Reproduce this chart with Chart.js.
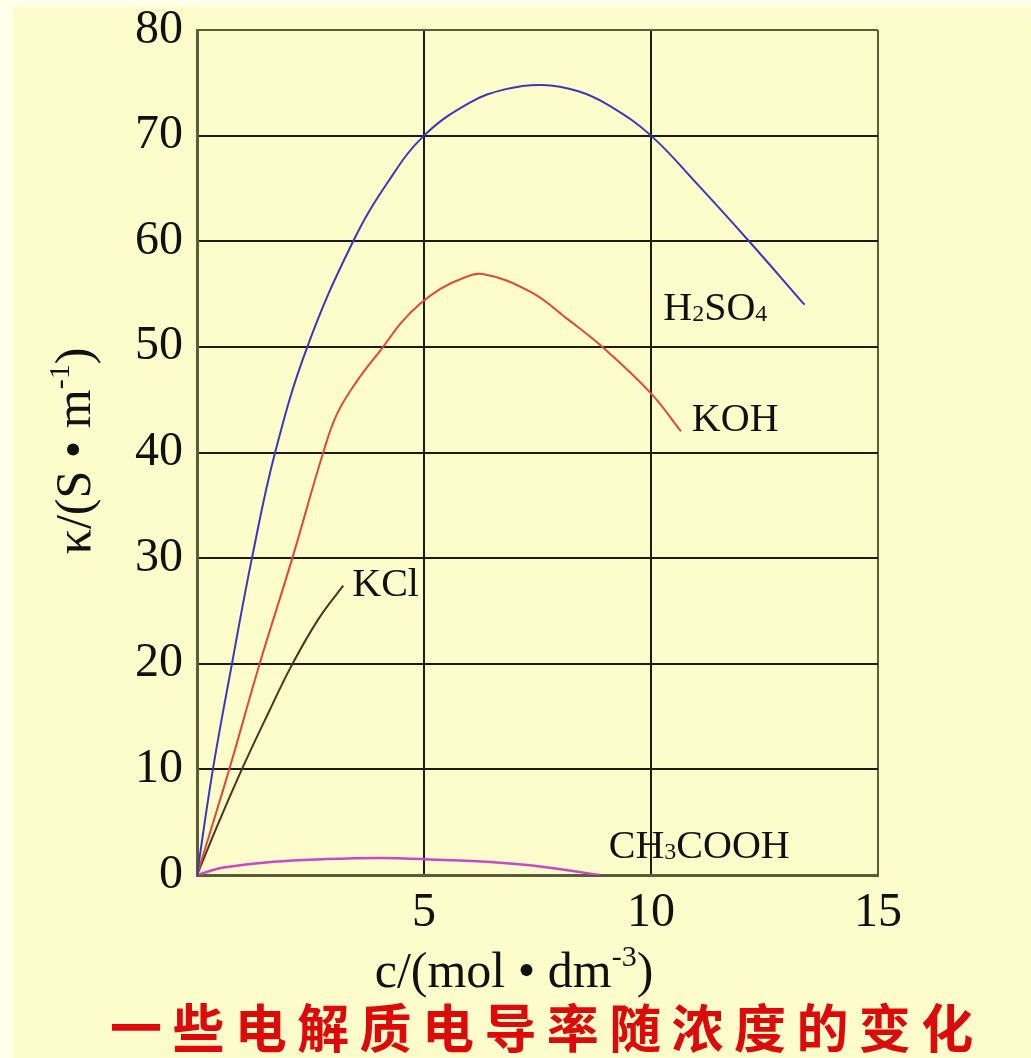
<!DOCTYPE html>
<html><head><meta charset="utf-8">
<script src="https://cdn.jsdelivr.net/npm/chart.js@4"></script>
<style>html,body{margin:0;padding:0;background:#FDFDCB;overflow:hidden;}#wrap{width:1031px;height:1058px;}</style>
</head><body><div id="wrap"><canvas id="c" width="1031" height="1058"></canvas></div>
<script>
// ---- data ----
const xTickStep = 5;   // c/(mol·dm^-3)
const yTickStep = 10;  // κ/(S·m^-1)
const h2so4C = [0, 0.35, 0.77, 1.21, 1.72, 2.43, 3.44, 4.22, 5.0, 6.0, 6.8, 7.6, 8.4, 9.1, 10.0, 11.0, 12.16, 13.38];
const h2so4K = [0, 10, 20, 30, 40, 50, 60, 65.7, 70, 73.1, 74.4, 74.8, 74.2, 72.8, 70, 65.5, 60, 54];
const kohC = [0, 0.71, 1.38, 2.1, 2.78, 3.09, 3.53, 4.1, 4.5, 4.92, 5.36, 5.8, 6.29, 7.35, 8.17, 8.9, 10.0, 10.66];
const kohK = [0, 10, 20, 30, 40, 43.7, 46.8, 50, 52.3, 54.1, 55.5, 56.4, 56.9, 55.2, 52.6, 50.1, 45.6, 42];
const kclC = [0, 0.5, 1.04, 1.6, 2.08, 2.67, 3.22];
const kclK = [0, 5.2, 10.5, 15.6, 19.8, 24.2, 27.4];
const aceticC = [0, 0.58, 1.68, 2.78, 4.0, 5.0, 7.15, 8.87];
const aceticK = [0, 0.7, 1.25, 1.5, 1.62, 1.5, 1.0, 0];
const seriesNames = ['H2SO4', 'KOH', 'KCl', 'CH3COOH'];
const labelParts = [
  [['H',''],['2','sub'],['SO',''],['4','sub']],
  [['KOH','']],
  [['KCl','']],
  [['CH',''],['3','sub'],['COOH','']]
];
const labelC = [10.27, 10.9, 3.42, 9.07];
const labelK = [52.5, 42.0, 26.4, 1.6];
const yTitleParts = [['κ/(S • m',''],['-1','sup'],[')','']];
const xTitleParts = [['c/(mol • dm',''],['-3','sup'],[')','']];
const caption = '一些电解质电导率随浓度的变化';

const pts = (xs, ys) => xs.map((x, i) => ({x, y: ys[i]}));
const SERIF = '"Liberation Serif","Times New Roman",serif';
const INNER = '#1c1c10';
const EDGE = '#5c5c36';

function drawRich(ctx, parts, size, x, y, align) {
  const big = size + 'px ' + SERIF, small = Math.round(size * 0.6) + 'px ' + SERIF;
  let w = 0;
  parts.forEach(p => { ctx.font = p[1] ? small : big; w += ctx.measureText(p[0]).width; });
  let cx = align === 'center' ? x - w / 2 : x;
  ctx.textAlign = 'left';
  ctx.textBaseline = 'alphabetic';
  parts.forEach(p => {
    ctx.font = p[1] ? small : big;
    let dy = 0;
    if (p[1] === 'sup') dy = -size * 0.42;
    if (p[1] === 'sub') dy = size * 0.02;
    ctx.fillText(p[0], cx, y + dy);
    cx += ctx.measureText(p[0]).width;
  });
}

const decor = {
  id: 'decor',
  beforeDraw(chart) {
    const ctx = chart.ctx;
    ctx.save();
    ctx.fillStyle = '#FDFDCB';
    ctx.fillRect(0, 0, chart.width, chart.height);
    ctx.fillStyle = '#FFFFEA';
    ctx.fillRect(0, 0, chart.width, 7);
    ctx.fillRect(0, 0, 13, chart.height);
    ctx.restore();
  },
  afterDraw(chart) {
    const ctx = chart.ctx, xs = chart.scales.x, ys = chart.scales.y;
    ctx.save();
    ctx.fillStyle = '#111';
    labelParts.forEach((parts, i) => {
      drawRich(ctx, parts, 40, xs.getPixelForValue(labelC[i]), ys.getPixelForValue(labelK[i]), 'left');
    });
    // axis titles
    drawRich(ctx, xTitleParts, 50, 514, 987, 'center');
    ctx.save();
    ctx.translate(90, 451);
    ctx.rotate(-Math.PI / 2);
    drawRich(ctx, yTitleParts, 50, 0, 0, 'center');
    ctx.restore();
    // caption
    ctx.font = 'bold 52px "Noto Sans CJK SC"';
    ctx.fillStyle = '#DC0A0A';
    ctx.textAlign = 'left';
    ctx.textBaseline = 'middle';
    ctx.letterSpacing = '10.4px';
    ctx.fillText(caption, 110, 1028);
    ctx.restore();
  }
};

const gridColor = (edgeVals) => (c) => (edgeVals.includes(c.tick && c.tick.value) ? EDGE : INNER);

new Chart(document.getElementById('c'), {
  type: 'line',
  data: {
    datasets: [
      {label: seriesNames[0], data: pts(h2so4C, h2so4K), borderColor: '#3838bc'},
      {label: seriesNames[1], data: pts(kohC, kohK), borderColor: '#e04a34'},
      {label: seriesNames[2], data: pts(kclC, kclK), borderColor: '#4a3420'},
      {label: seriesNames[3], data: pts(aceticC, aceticK), borderColor: '#c848c8', borderWidth: 2.5}
    ]
  },
  options: {
    responsive: false,
    animation: false,
    devicePixelRatio: 1,
    layout: {padding: {left: 0, right: 153, top: 30, bottom: 58}},
    elements: {
      line: {borderWidth: 2, fill: false, tension: 0.4},
      point: {radius: 0, hoverRadius: 0}
    },
    plugins: {legend: {display: false}, tooltip: {enabled: false}, title: {display: false}},
    scales: {
      x: {
        type: 'linear', min: 0, max: 15,
        ticks: {stepSize: xTickStep, color: '#111', padding: 10, font: {family: SERIF, size: 48},
                callback: v => (v === 0 ? '' : v)},
        grid: {color: gridColor([0, 15]), lineWidth: 2, drawTicks: false},
        border: {display: true, color: EDGE, width: 3},
        afterFit: s => { s.height = 125; s.paddingLeft = 0; s.paddingRight = 0; }
      },
      y: {
        type: 'linear', min: 0, max: 80,
        ticks: {stepSize: yTickStep, color: '#111', padding: 14, font: {family: SERIF, size: 48}},
        grid: {color: gridColor([0, 80]), lineWidth: 2, drawTicks: false},
        border: {display: true, color: EDGE, width: 3},
        afterFit: s => { s.width = 197; s.paddingTop = 0; s.paddingBottom = 0; }
      }
    }
  },
  plugins: [decor]
});
</script></body></html>
